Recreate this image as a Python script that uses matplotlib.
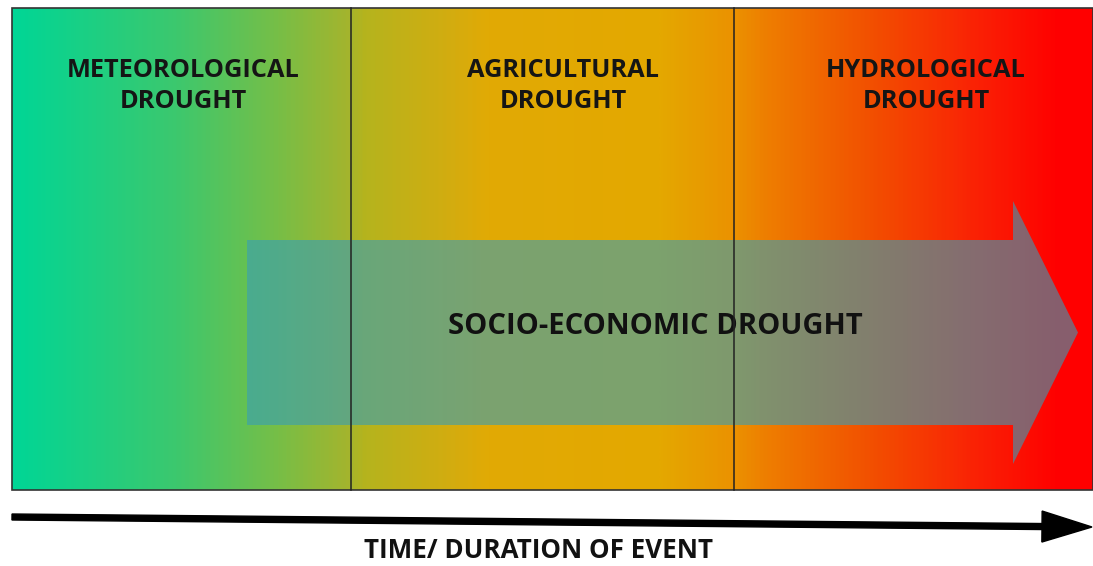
import numpy as np
import matplotlib
matplotlib.use("Agg")
import matplotlib.pyplot as plt
from matplotlib.colors import LinearSegmentedColormap
from matplotlib.patches import FancyArrow, Rectangle

# Drought stages along the time axis (diagram units = pixels of the panel)
stages = ["METEOROLOGICAL\nDROUGHT", "AGRICULTURAL\nDROUGHT", "HYDROLOGICAL\nDROUGHT"]
stage_edges = [12, 351, 734, 1093]
label_centers = [183, 563, 926]

# background gradient colour stops (position, rgb)
grad_pos = [0.0, 0.15, 0.247, 0.312, 0.324, 0.408, 0.44, 0.6, 0.67, 0.70, 0.795, 0.89, 0.97, 1.0]
grad_rgb = [(0, 214, 150), (60, 200, 110), (120, 190, 70), (165, 180, 45),
            (180, 180, 30), (212, 172, 15), (225, 170, 5), (228, 168, 0),
            (235, 145, 0), (238, 125, 0), (242, 80, 0), (250, 35, 5),
            (255, 0, 0), (255, 0, 0)]

socio_label = "SOCIO-ECONOMIC DROUGHT"
time_label = "TIME/ DURATION OF EVENT"

fig = plt.figure(figsize=(10.93, 5.66), dpi=100)
ax = fig.add_axes([0, 0, 1, 1])
ax.set_xlim(0, 1093)
ax.set_ylim(566, 0)
ax.axis("off")

top, bottom = 8, 490

# gradient panel
cmap = LinearSegmentedColormap.from_list(
    "drought", [(p, tuple(c / 255 for c in rgb)) for p, rgb in zip(grad_pos, grad_rgb)])
grad = np.linspace(0, 1, 512).reshape(1, -1)
ax.imshow(grad, cmap=cmap, aspect="auto",
          extent=(stage_edges[0], stage_edges[-1], bottom, top), zorder=1)
ax.add_patch(Rectangle((stage_edges[0], top), stage_edges[-1] - stage_edges[0], bottom - top,
                       fill=False, edgecolor="#333333", lw=1.2, zorder=5))

# stage separators
for xe in stage_edges[1:-1]:
    ax.plot([xe, xe], [top, bottom], color="#222222", lw=1.1, zorder=5)

# stage labels
for name, xc in zip(stages, label_centers):
    ax.text(xc, 86, name, ha="center", va="center", fontsize=18.3, fontweight="bold",
            family="Open Sans", color="#151515", linespacing=1.33, zorder=4)

# socio-economic drought arrow (semi transparent)
ax.add_patch(FancyArrow(247, 332.5, 1078 - 247, 0, width=185, head_width=263,
                        head_length=65, length_includes_head=True,
                        facecolor=(55 / 255, 158 / 255, 183 / 255), alpha=0.6,
                        edgecolor="none", zorder=2))
ax.text(655, 326, socio_label, ha="center", va="center", fontsize=21,
        fontweight="bold", family="Open Sans", color="#111111", zorder=3)

# time axis arrow
ax.add_patch(FancyArrow(12, 517, 1080, 10, width=6, head_width=31, head_length=50,
                        length_includes_head=True, color="black", zorder=3))
ax.text(539, 551, time_label, ha="center", va="center", fontsize=18.7,
        fontweight="bold", family="Open Sans", color="#111111")

fig.savefig("out.png", dpi=100)
